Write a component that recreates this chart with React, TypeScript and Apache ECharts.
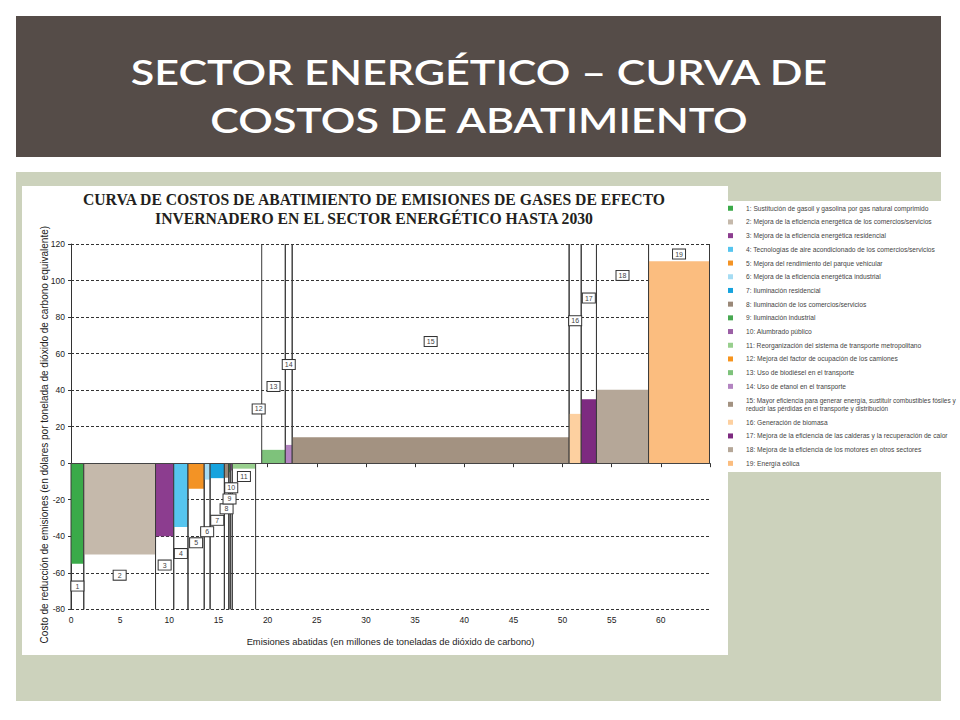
import React, { useEffect, useRef } from "react";
import * as echarts from "echarts";

// ---------- data ----------
const tagLabels = ["1","2","3","4","5","6","7","8","9","10","11","12","13","14","15","16","17","18","19"];
const measureNames = [
  "1: Sustitución de gasoil y gasolina por gas natural comprimido",
  "2: Mejora de la eficiencia energética de los comercios/servicios",
  "3: Mejora de la eficiencia energética residencial",
  "4: Tecnologías de aire acondicionado de los comercios/servicios",
  "5: Mejora del rendimiento del parque vehicular",
  "6: Mejora de la eficiencia energética industrial",
  "7: Iluminación residencial",
  "8: Iluminación de los comercios/servicios",
  "9: Iluminación industrial",
  "10: Alumbrado público",
  "11: Reorganización del sistema de transporte metropolitano",
  "12: Mejora del factor de ocupación de los camiones",
  "13: Uso de biodiésel en el transporte",
  "14: Uso de etanol en el transporte",
  "15: Mayor eficiencia para generar energía, sustituir combustibles fósiles y\nreducir las pérdidas en el transporte y distribución",
  "16: Generación de biomasa",
  "17: Mejora de la eficiencia de las calderas y la recuperación de calor",
  "18: Mejora de la eficiencia de los motores en otros sectores",
  "19: Energía eólica",
];
// abated emissions of each measure (million t CO2)
const widths = [1.3, 7.3, 1.85, 1.45, 1.65, 0.6, 1.45, 0.45, 0.15, 0.2, 2.38, 0.62, 2.4, 0.7, 28.17, 1.23, 1.55, 5.3, 6.2];
// abatement cost (USD / t CO2e)
const costs = [-55, -50, -40, -35, -14, -9, -8.2, -8, -5, -4, -3, 0, 7.3, 10, 14.2, 27, 35, 40.2, 110.5];
// height (cost-axis value) of each numbered tag
const tagY = [-67.3, -61.3, -55.8, -49.5, -43.6, -37.5, -31.3, -25, -19.6, -13.5, -7.3, 29.7, 42, 54, 66.6, 78, 90.4, 102.8, 114.5];

const xTicks = { min: 0, max: 65, interval: 5 };
const yTicks = { min: -80, max: 120, interval: 20 };

const slideTitle = ["SECTOR ENERGÉTICO – CURVA DE", "COSTOS DE ABATIMIENTO"];
const chartTitle = ["CURVA DE COSTOS DE ABATIMIENTO DE EMISIONES DE GASES DE EFECTO", "INVERNADERO EN EL SECTOR ENERGÉTICO HASTA 2030"];
const yName = "Costo de reducción de emisiones (en dólares por tonelada de dióxido de carbono equivalente)";
const xName = "Emisiones abatidas (en millones de toneladas de dióxido de carbono)";

// ---------- styles ----------
const colors = [
  "#3aaa49", "#c5b9ab", "#8c3d8f", "#56c5ef", "#f39325", "#a6dcf3", "#16a3de", "#9a8878",
  "#48a851", "#9b5fa5", "#98cf8e", "#f7941d", "#7ec27b", "#b384c1", "#a39281", "#fdd0a0",
  "#7d2a80", "#b5a798", "#fbbd7f",
];
const SANS = "'Liberation Sans', Arial, sans-serif";

export default function App() {
  const ref = useRef<HTMLDivElement>(null);

  useEffect(() => {
    if (!ref.current) return;
    const chart = echarts.init(ref.current, undefined, { renderer: "svg" });

    // cumulative boundaries
    const starts: number[] = [];
    let acc = 0;
    widths.forEach((w) => { starts.push(acc); acc += w; });

    // slide title scale to match the letter-spaced original width
    const titleFont = "600 35px Lato, 'Open Sans', sans-serif";
    let sx = 1.15;
    try {
      const ctx = document.createElement("canvas").getContext("2d");
      if (ctx) {
        ctx.font = titleFont;
        const w = ctx.measureText(slideTitle[0]).width;
        if (w > 0) sx = 698 / w;
      }
    } catch (e) {}

    const measureSeries = measureNames.map((name, i) => ({
      type: "custom",
      name,
      z: 2,
      itemStyle: { color: colors[i] },
      encode: { x: [0, 1], y: 2 },
      data: [[starts[i], starts[i] + widths[i], costs[i]]],
      renderItem: (params: any, api: any) => {
        const x0 = api.value(0), x1 = api.value(1), c = api.value(2);
        const children: any[] = [];
        if (c !== 0) {
          const p0 = api.coord([x0, 0]);
          const p1 = api.coord([x1, c]);
          children.push({
            type: "rect",
            shape: { x: p0[0], y: Math.min(p0[1], p1[1]), width: p1[0] - p0[0], height: Math.abs(p1[1] - p0[1]) },
            style: { fill: colors[i] },
          });
          const yEnd = c < 0 ? yTicks.min : yTicks.max;
          [x0, x1].forEach((xv) => {
            const a = api.coord([xv, 0]);
            const b = api.coord([xv, yEnd]);
            children.push({
              type: "line",
              shape: { x1: a[0], y1: a[1], x2: b[0], y2: b[1] },
              style: { stroke: "#3a3a3a", lineWidth: 1 },
            });
          });
        }
        return { type: "group", children };
      },
    }));

    const tagSeries = {
      type: "custom",
      name: "tags",
      z: 6,
      silent: true,
      encode: { x: 0, y: 1 },
      data: tagLabels.map((t, i) => [starts[i] + widths[i] / 2, tagY[i], t]),
      renderItem: (params: any, api: any) => {
        const p = api.coord([api.value(0), api.value(1)]);
        return {
          type: "text",
          style: {
            text: tagLabels[params.dataIndex],
            x: p[0],
            y: p[1],
            align: "center",
            verticalAlign: "middle",
            fontSize: 7,
            fontFamily: SANS,
            fill: "#444",
            backgroundColor: "#fff",
            borderColor: "#333",
            borderWidth: 1,
            width: 8,
            lineHeight: 7,
            padding: [1, 2, 1, 2],
          },
        };
      },
      markLine: {
        silent: true,
        symbol: "none",
        label: { show: false },
        lineStyle: { type: "solid", color: "#444", width: 1 },
        data: [{ yAxis: 0 }],
        z: 3,
      },
    };

    const option: any = {
      animation: false,
      backgroundColor: "#ffffff",
      graphic: [
        { type: "rect", z: -10, shape: { x: 16, y: 16, width: 925, height: 141 }, style: { fill: "#554c48" } },
        { type: "rect", z: -10, shape: { x: 16, y: 172, width: 925, height: 529 }, style: { fill: "#ccd2bc" } },
        { type: "rect", z: -9, shape: { x: 22, y: 186, width: 706, height: 469 }, style: { fill: "#ffffff" } },
        { type: "rect", z: -9, shape: { x: 727, y: 201, width: 233, height: 271 }, style: { fill: "#ffffff" } },
        {
          type: "group", x: 479, y: 95, scaleX: sx, scaleY: 1, z: 10,
          children: [{
            type: "text",
            style: {
              text: slideTitle.join("\n"),
              x: 0, y: 0,
              align: "center", verticalAlign: "middle",
              font: titleFont,
              lineHeight: 48,
              fill: "#ffffff",
            },
          }],
        },
        {
          type: "text", z: 10,
          style: {
            text: chartTitle.join("\n"),
            x: 374, y: 209,
            align: "center", verticalAlign: "middle",
            fontFamily: "'Liberation Serif', 'Times New Roman', serif",
            fontWeight: "bold",
            fontSize: 15.7,
            lineHeight: 19,
            fill: "#231f20",
          },
        },
      ],
      grid: { left: 71, top: 244, width: 639, height: 365.3, containLabel: false },
      legend: {
        data: measureNames,
        orient: "vertical",
        left: 728,
        top: 204,
        padding: 0,
        icon: "rect",
        itemWidth: 5,
        itemHeight: 5,
        itemGap: 5.2,
        selectedMode: false,
        formatter: (name: string) =>
          name.indexOf("\n") >= 0 ? name.split("\n").map((l) => `{s|${l}}`).join("\n") : name,
        textStyle: {
          fontSize: 6.65, fontFamily: SANS, color: "#444", lineHeight: 8.5, padding: [0, 0, 0, 8],
          rich: { s: { fontSize: 6.45, fontFamily: SANS, color: "#444", lineHeight: 8.5 } },
        },
      },
      xAxis: {
        type: "value",
        min: xTicks.min,
        max: xTicks.max,
        interval: xTicks.interval,
        name: xName,
        nameLocation: "middle",
        nameGap: 28,
        nameMoveOverlap: false,
        nameTextStyle: { fontSize: 9.35, fontFamily: SANS, color: "#222" },
        axisLine: { show: false },
        axisTick: { show: true, length: 4, lineStyle: { color: "#333" } },
        axisLabel: {
          fontSize: 8.5, fontFamily: SANS, color: "#222", margin: 6,
          formatter: (v: number) => (v === xTicks.max ? "" : String(v)),
        },
        splitLine: { show: false },
      },
      yAxis: {
        type: "value",
        min: yTicks.min,
        max: yTicks.max,
        interval: yTicks.interval,
        name: yName,
        nameLocation: "middle",
        nameGap: 22,
        nameMoveOverlap: false,
        nameTextStyle: { fontSize: 10, fontFamily: SANS, color: "#222", padding: [0, 16, 0, 0] },
        axisLine: { show: true, lineStyle: { color: "#333", width: 1 } },
        axisTick: { show: true, length: 3, lineStyle: { color: "#333" } },
        axisLabel: { fontSize: 8.5, fontFamily: SANS, color: "#222", margin: 6 },
        splitLine: { show: true, lineStyle: { type: [3, 2], color: "#333", width: 1 } },
      },
      series: [...measureSeries, tagSeries],
    };

    chart.setOption(option);
    return () => chart.dispose();
  }, []);

  return <div ref={ref} style={{ position: "absolute", left: 0, top: 0, width: 960, height: 720 }} />;
}
